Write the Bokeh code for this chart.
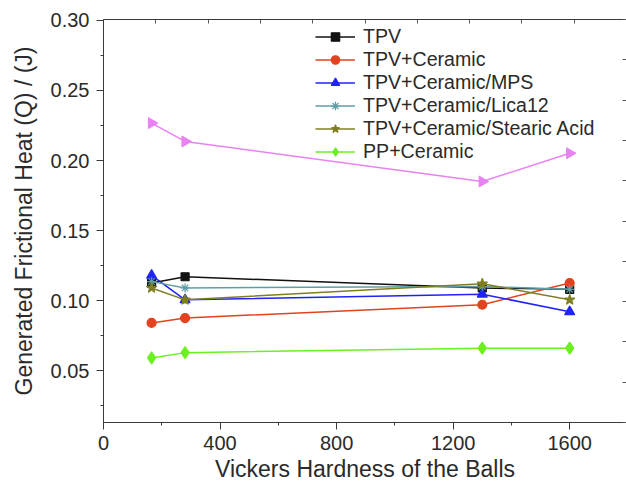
import numpy as np
from bokeh.plotting import figure
from bokeh.models import (Range1d, LinearAxis, SingleIntervalTicker, Legend,
                          LegendItem, NumeralTickFormatter)
from bokeh.embed import file_html
from bokeh.resources import INLINE

# ---- data ----
hardness = [165, 280, 1300, 1600]
tpv = [0.1125, 0.117, 0.109, 0.108]
tpv_ceramic = [0.084, 0.0875, 0.097, 0.1125]
tpv_mps = [0.118, 0.1005, 0.1045, 0.092]
tpv_lica12 = [0.1135, 0.109, 0.110, 0.108]
tpv_stearic = [0.109, 0.1005, 0.112, 0.1005]
pp_ceramic = [0.059, 0.0628, 0.066, 0.066]
unlabelled = [0.2267, 0.2136, 0.185, 0.2052]

labels = ["TPV", "TPV+Ceramic", "TPV+Ceramic/MPS", "TPV+Ceramic/Lica12",
          "TPV+Ceramic/Stearic Acid", "PP+Ceramic"]

FONT = "Liberation Sans"
AXIS_COL = "#3a3a3a"
TEXT_COL = "#2a2a2a"

p = figure(width=626, height=488, output_backend="svg", toolbar_location=None,
           x_range=Range1d(0, 1795), y_range=Range1d(0.0129, 0.3007),
           min_border_left=103, min_border_right=0, min_border_top=19,
           min_border_bottom=66, background_fill_color="white",
           border_fill_color="white")
p.outline_line_color = None
p.xgrid.visible = False
p.ygrid.visible = False

# bottom axis
xa = p.xaxis[0]
xa.ticker = SingleIntervalTicker(interval=400, num_minor_ticks=2)
xa.axis_label = "Vickers Hardness of the Balls"
# left axis
ya = p.yaxis[0]
ya.ticker = SingleIntervalTicker(interval=0.05, num_minor_ticks=2)
ya.axis_label = "Generated Frictional Heat (Q) / (J)"
ya.formatter = NumeralTickFormatter(format="0.00")

for ax in (xa, ya):
    ax.axis_line_color = AXIS_COL
    ax.major_tick_line_color = AXIS_COL
    ax.minor_tick_line_color = AXIS_COL
    ax.major_tick_in = 0
    ax.major_tick_out = 7
    ax.minor_tick_in = 0
    ax.minor_tick_out = 3
    ax.major_label_text_font = FONT
    ax.major_label_text_font_size = "20px"
    ax.major_label_text_color = TEXT_COL
    ax.axis_label_text_font = FONT
    ax.axis_label_text_font_size = "23px"
    ax.axis_label_text_font_style = "normal"
    ax.axis_label_text_color = TEXT_COL
xa.major_label_standoff = 6
xa.axis_label_standoff = 3
ya.major_label_standoff = 7
ya.axis_label_standoff = 11

# top and right frame axes (ticks only)
p.extra_x_ranges = {"top": Range1d(0, 10)}
p.extra_y_ranges = {"right": Range1d(0, 10)}
top = LinearAxis(x_range_name="top",
                 ticker=SingleIntervalTicker(interval=1, num_minor_ticks=0))
right = LinearAxis(y_range_name="right",
                   ticker=SingleIntervalTicker(interval=1, num_minor_ticks=0))
for ax in (top, right):
    ax.major_tick_in = 4
    ax.major_tick_out = 0
    ax.minor_tick_line_color = None
    ax.major_label_text_font_size = "0px"
    ax.major_label_text_alpha = 0
    ax.major_label_standoff = 0
    ax.major_tick_line_color = "#555555"
top.axis_line_color = AXIS_COL
right.axis_line_color = None
p.add_layout(top, "above")
p.add_layout(right, "right")

# ---- series ----
series = [
    (tpv, "#111111", "square", 8),
    (tpv_ceramic, "#e2431e", "circle", 9),
    (tpv_mps, "#1f23f5", "triangle", 10),
    (tpv_lica12, "#5f9ea4", "asterisk", 9),
    (tpv_stearic, "#7f7f22", "star", 11),
    (pp_ceramic, "#6cf020", "diamond", 12),
]
items = []
for (vals, col, mk, sz), lab in zip(series, labels):
    ln = p.line(hardness, vals, line_color=col, line_width=1.5)
    sc = p.scatter(hardness, vals, marker=mk, size=sz, fill_color=col,
                   line_color=col, line_width=1.2)
    items.append(LegendItem(label=lab, renderers=[ln, sc]))

p.line(hardness, unlabelled, line_color="#e882f2", line_width=1.5)
p.scatter(hardness, unlabelled, marker="triangle", angle=-np.pi / 2, size=11,
          fill_color="#e882f2", line_color="#e882f2")

legend = Legend(items=items, location=(212, 259), padding=0, margin=0,
                spacing=0, glyph_width=40, glyph_height=21, label_height=21,
                label_standoff=8, border_line_color=None,
                background_fill_alpha=0, label_text_font=FONT,
                label_text_font_size="19.6px", label_text_color=TEXT_COL,
                label_text_baseline="middle")
p.add_layout(legend)

open("out.html", "w").write(file_html(p, INLINE))
